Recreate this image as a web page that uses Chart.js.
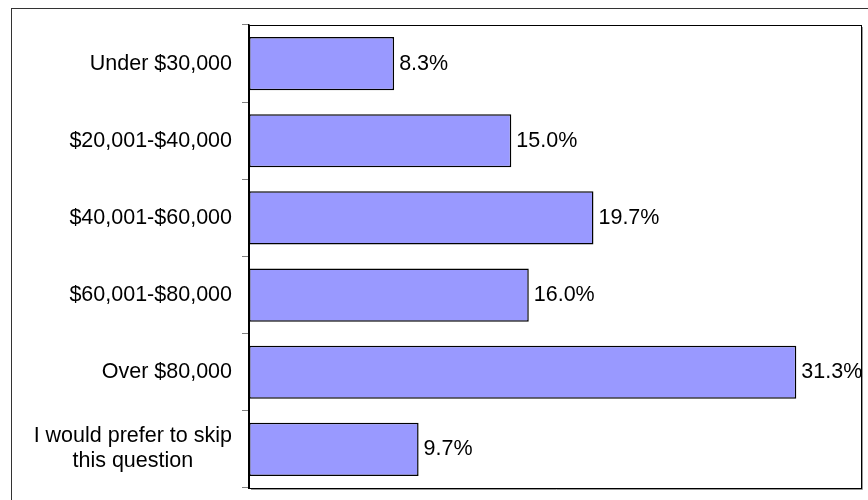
<!DOCTYPE html>
<html>
<head>
<meta charset="utf-8">
<script src="https://cdn.jsdelivr.net/npm/chart.js@4"></script>
<style>
    html, body { margin: 0; padding: 0; background: #fff; }
    #wrap { position: relative; width: 868px; height: 500px; }
    #frame { position: absolute; left: 11px; top: 8px; right: 0; bottom: 0; border-top: 1px solid #333; border-left: 1px solid #333; }
    canvas { position: absolute; left: 0; top: 0; }
</style>
</head>
<body>
<div id="wrap">
    <div id="frame"></div>
    <canvas id="incomeChart" width="868" height="500"></canvas>
</div>
<script>
// Chart data
const categories = [
    'Under $30,000',
    '$20,001-$40,000',
    '$40,001-$60,000',
    '$60,001-$80,000',
    'Over $80,000',
    ['I would prefer to skip', 'this question']
];
const percentages = [8.3, 15.0, 19.7, 16.0, 31.3, 9.7];
const axisMax = 35;

const labelFont = '21.5px "Liberation Sans", Arial, sans-serif';

// Draws the category labels (right aligned, multi-line ones centred on themselves)
const categoryLabels = {
    id: 'categoryLabels',
    afterDraw(chart) {
        const ctx = chart.ctx;
        const yScale = chart.scales.y;
        const rightEdge = chart.chartArea.left - 17;
        ctx.save();
        ctx.font = labelFont;
        ctx.fillStyle = '#000';
        ctx.textBaseline = 'middle';
        categories.forEach((label, i) => {
            const y = yScale.getPixelForTick(i);
            if (Array.isArray(label)) {
                const widest = Math.max(...label.map(l => ctx.measureText(l).width));
                const cx = rightEdge - widest / 2;
                const lineHeight = 25;
                const startY = y - (label.length - 1) * lineHeight / 2 - 1;
                ctx.textAlign = 'center';
                label.forEach((line, j) => ctx.fillText(line, cx, startY + j * lineHeight));
            } else {
                ctx.textAlign = 'right';
                ctx.fillText(label, rightEdge, y);
            }
        });
        ctx.restore();
    }
};

// Value labels at the end of each bar
const valueLabels = {
    id: 'valueLabels',
    afterDatasetsDraw(chart) {
        const ctx = chart.ctx;
        const meta = chart.getDatasetMeta(0);
        ctx.save();
        ctx.font = labelFont;
        ctx.fillStyle = '#000';
        ctx.textAlign = 'left';
        ctx.textBaseline = 'middle';
        meta.data.forEach((bar, i) => {
            ctx.fillText(percentages[i].toFixed(1) + '%', bar.x + 5, bar.y);
        });
        ctx.restore();
    }
};

// Plot area box with a light shadow on right and bottom
const plotBox = {
    id: 'plotBox',
    beforeDatasetsDraw(chart) {
        const { left, top, right, bottom } = chart.chartArea;
        const ctx = chart.ctx;
        ctx.save();
        ctx.strokeStyle = '#999';
        ctx.lineWidth = 1;
        ctx.beginPath();
        ctx.moveTo(right + 1.5, top + 2);
        ctx.lineTo(right + 1.5, bottom + 1.5);
        ctx.lineTo(left + 2, bottom + 1.5);
        ctx.stroke();
        ctx.strokeStyle = '#000';
        ctx.strokeRect(left + 0.5, top + 0.5, right - left, bottom - top);
        ctx.restore();
    }
};

new Chart(document.getElementById('incomeChart'), {
    type: 'bar',
    data: {
        labels: categories,
        datasets: [{
            data: percentages,
            backgroundColor: '#9999FF',
            borderColor: '#000',
            borderWidth: 1.5,
            borderSkipped: false,
            barPercentage: 0.69,
            categoryPercentage: 1
        }]
    },
    options: {
        indexAxis: 'y',
        responsive: false,
        animation: false,
        layout: {
            padding: { top: 25, right: 7, bottom: 12, left: 0 }
        },
        plugins: {
            legend: { display: false },
            tooltip: { enabled: false }
        },
        scales: {
            x: {
                min: 0,
                max: axisMax,
                display: false
            },
            y: {
                offset: true,
                grid: {
                    offset: true,
                    drawOnChartArea: false,
                    drawTicks: true,
                    tickLength: 7,
                    color: '#808080'
                },
                border: { color: '#000', width: 1.5 },
                ticks: { display: false },
                afterFit(scale) {
                    scale.width = 249;
                }
            }
        }
    },
    plugins: [plotBox, valueLabels, categoryLabels]
});
</script>
</body>
</html>
